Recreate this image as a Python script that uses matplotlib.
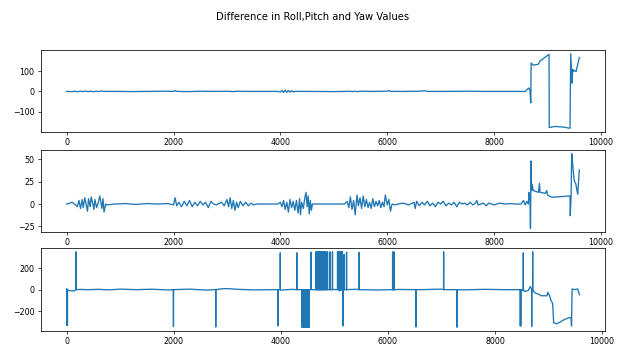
import matplotlib
matplotlib.use("Agg")
import matplotlib.pyplot as plt

# Roll : (indice, valeur)
roll_x = [0, 100, 150, 200, 250, 300, 350, 400, 450, 500, 550, 600, 650, 700, 800,
          1000, 1200, 1500, 1800, 2000, 2030, 2060, 2300, 2500, 2800, 3000, 3100,
          3200, 3400, 3700, 3950, 4000, 4030, 4060, 4090, 4120, 4150, 4180, 4210,
          4240, 4300, 4500, 5000, 5200, 5300, 5350, 5400, 5450, 5500, 5700, 6000,
          6030, 6060, 6300, 6600, 6700, 6750, 7000, 7500, 7800, 8000, 8300, 8500,
          8580, 8620, 8650, 8670, 8686, 8692, 8734, 8828, 8860, 9028, 9031, 9140,
          9300, 9420, 9433, 9458, 9470, 9483, 9500, 9533, 9595]
roll_y = [0, -1, 1, -2, 1, -1, 2, -1, 1, -2, 1, -1, 2, 0, 0,
          0, -1, 0, 1, 0, 4, 0, -1, 1, 0, 1, -1,
          1, 0, 0, 0, -3, 5, -5, 6, -5, 5, -4, 4,
          -2, 0, 0, -1, 0, 1, -1, 1, -1, 1, 0, 1,
          4, 0, 0, 1, 3, 0, 0, 1, 0, 0, 0, 0,
          0, 10, 17, 5, -57, 141, 130, 135, 151, 184, -179, -174,
          -177, -183, 187, 41, 110, 100, 105, 98, 168]

# Pitch
pitch_x = [0, 60, 100, 150, 200, 230, 260, 290, 310, 340, 370, 390, 410, 440, 460,
           490, 510, 530, 560, 590, 620, 640, 660, 680, 700, 730, 760, 900, 1100,
           1300, 1500, 1700, 1900, 2000, 2030, 2060, 2100, 2150, 2200, 2250, 2300,
           2350, 2400, 2450, 2500, 2550, 2600, 2650, 2700, 2750, 2800, 2900, 2950,
           3000, 3030, 3060, 3090, 3120, 3150, 3180, 3210, 3250, 3300, 3350, 3400,
           3450, 3500, 3550, 3700, 3950, 4000, 4030, 4060, 4090, 4120, 4150, 4180,
           4210, 4240, 4270, 4300, 4330, 4360, 4375, 4400, 4430, 4460, 4480, 4500,
           4520, 4540, 4560, 4580, 4600, 4700, 5000, 5200, 5250, 5280, 5310, 5340,
           5370, 5400, 5433, 5460, 5490, 5520, 5550, 5580, 5610, 5640, 5670, 5700,
           5730, 5760, 5790, 5820, 5850, 5880, 5910, 5940, 5963, 6000, 6030, 6060,
           6090, 6150, 6200, 6300, 6400, 6500, 6523, 6550, 6600, 6650, 6700, 6750,
           6800, 6850, 6900, 6950, 7000, 7050, 7100, 7150, 7200, 7250, 7300, 7350,
           7400, 7450, 7500, 7550, 7600, 7650, 7676, 7700, 7800, 7850, 7900, 8000,
           8100, 8200, 8300, 8400, 8500, 8550, 8580, 8610, 8640, 8654, 8670, 8680,
           8692, 8700, 8710, 8734, 8830, 8847, 8860, 8960, 8984, 9000, 9078, 9200,
           9420, 9425, 9440, 9452, 9470, 9480, 9500, 9530, 9550, 9564, 9595]
pitch_y = [0, 1, 2, 0, -3, 4, -5, 5, -4, 7, -2, -8, 6, -3, 8,
           0, -6, 5, -4, 1, 9, 2, -5, 6, -9, 0, -1, 0, 0.5,
           -0.5, 0.5, 0, 0.5, -1, 7, -2, 2, -3, 3, -2, 4,
           -3, 2, -2, 3, -1, 2, -4, 3, 0, -1, 2, -2,
           5, -3, 7, -5, 4, -7, 2, -4, 3, -2, 2, -2,
           1, -1, 0, 0, 0, 2, -3, 4, -6, 2, -9, 5,
           -4, 3, -7, 4, -10, 6, -12, 2, -5, 8, 13, -3,
           9, -11, 4, -7, 0, 0, 0, 0, 3, -4, 8, -6,
           4, -12, 10, -2, 7, -5, 9, -3, 5, -4, 2, -5,
           6, -3, 3, -2, 4, -4, 2, -3, 10, -1, 5, -8,
           0, -1, 0, 1, -1, 2, -5, 3, -2, 2, -1, 3,
           -2, 1, -3, 2, 0, 3, -2, 1, -1, 2, -3, 2,
           0, 1, -1, 2, -1, 1, 4, -1, 1, -2, 1, -1,
           1, 0, 0.5, 0, 0, 4, -1, 3, 0, 13, 5, -27,
           48, 15, 22, 15, 13, 23, 13, 12, 15, 10, 7.5, 8,
           9, -13, 8, 56, 45, 37, 26, 22, 15, 11, 38]

# Yaw : trace de base
yaw_x = [0, 20, 100, 150, 250, 400, 600, 800, 1000, 1300, 1600, 1900, 2100, 2300,
         2600, 2900, 3000, 3200, 3500, 3800, 4000, 4200, 4600, 5000, 5100, 5160,
         5200, 5400, 5800, 6200, 6600, 7000, 7400, 7800, 8200, 8450, 8500, 8550,
         8620, 8660, 8690, 8720, 8766, 8827, 8860, 8973, 8985, 9015, 9046, 9077,
         9096, 9140, 9200, 9295, 9390, 9420, 9430, 9440, 9484, 9545, 9576]
yaw_y = [10, -5, -12, -10, 2, 0, 3, -2, 5, 0, 4, -3, 2, 5,
         -4, 8, 10, 3, -2, 0, -5, 3, 0, 2, -12, -18,
         0, 4, -3, 2, 0, 5, -2, 3, 0, 0, -8, -16,
         -10, 30, -16, -16, -35, -45, -57, -57, -24, -50, -100, -130,
         -308, -320, -308, -280, -261, -261, -340, 7, 0, 7, -48]

# Yaw : sauts de +/-360 (indice, valeur)
yaw_spike_x = [5, 15, 172, 1995, 2785, 3950, 3990, 4299,
               4395, 4408, 4420, 4432, 4445, 4458, 4470, 4482, 4495, 4508, 4520, 4529,
               4561, 4655, 4668, 4680, 4692, 4705, 4718, 4730, 4742, 4755, 4768,
               4780, 4792, 4805, 4818, 4830, 4841, 4872, 4920, 4965,
               5060, 5075, 5090, 5105, 5120, 5135, 5150, 5159, 5183, 5228, 5464,
               6088, 6098, 6108, 6118, 6525, 7041, 7290, 8473, 8482, 8529, 8686, 8704]
yaw_spike_y = [-335, -335, 355, -345, -350, -340, 345, 345,
               -352, -352, -352, -352, -352, -352, -352, -352, -352, -352, -352, -352,
               352, 355, 355, 355, 355, 355, 355, 355, 355, 355, 355,
               355, 355, 355, 355, 355, 355, 355, 355, 355,
               355, 355, 355, 355, 355, 355, 355, -340, 330, 352, 350,
               352, 352, 352, 352, -350, 355, -352, -340, -340, 345, -345, 355]

# Assemble la trace yaw avec ses sauts
pts = list(zip(yaw_x, yaw_y))
for s, v in zip(yaw_spike_x, yaw_spike_y):
    pts += [(s - 1, 0), (s, v), (s + 1, 0)]
pts.sort(key=lambda p: p[0])
yaw_all_x = [p[0] for p in pts]
yaw_all_y = [p[1] for p in pts]

fig = plt.figure(figsize=(6.25, 3.47), dpi=100)
fig.suptitle('Difference in Roll,Pitch and Yaw Values', fontsize=7.2, y=0.951, va='center')

positions = [[0.0656, 0.6196, 0.9024, 0.2363],
             [0.0656, 0.3314, 0.9024, 0.2363],
             [0.0656, 0.0461, 0.9024, 0.2392]]
series = [(roll_x, roll_y), (pitch_x, pitch_y), (yaw_all_x, yaw_all_y)]

for pos, (xs, ys) in zip(positions, series):
    ax = fig.add_axes(pos)
    ax.plot(xs, ys, color='#1f77b4', linewidth=0.95)
    ax.tick_params(labelsize=5.7, length=2.3, width=0.5, pad=2.3)
    for sp in ax.spines.values():
        sp.set_linewidth(0.55)

fig.axes[0].set_yticks([-100, 0, 100])
fig.axes[1].set_yticks([-25, 0, 25, 50])
fig.axes[2].set_yticks([-200, 0, 200])

plt.savefig('out.png', dpi=100)
